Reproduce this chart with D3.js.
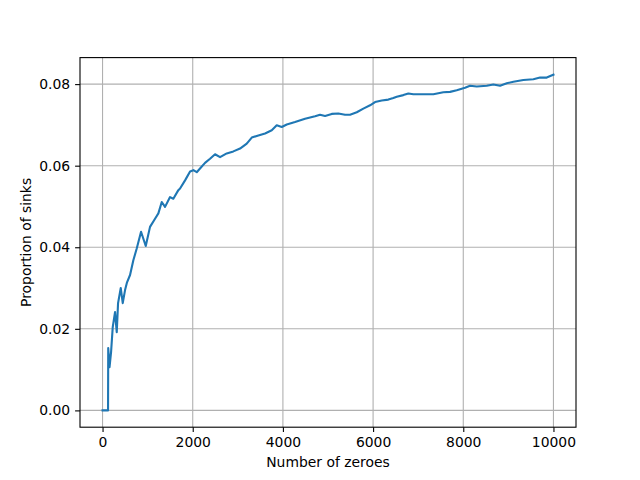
<!DOCTYPE html>
<html>
<head>
<meta charset="utf-8">
<script src="https://cdn.jsdelivr.net/npm/d3@7"></script>
<style>
  html, body { margin: 0; padding: 0; background: #fff; }
  svg { display: block; }
</style>
</head>
<body>
<svg id="chart" width="640" height="480"></svg>
<script>
// Data
const zeroes = [0, 122, 126, 155, 189, 226, 277, 315, 344, 404, 448, 499, 543, 610, 683, 758, 854, 958, 1053, 1164, 1238, 1313, 1386, 1497, 1570, 1681, 1719, 1830, 1941, 2014, 2089, 2162, 2273, 2384, 2495, 2606, 2754, 2901, 3049, 3198, 3309, 3455, 3604, 3753, 3863, 3974, 4085, 4269, 4491, 4713, 4824, 4935, 5083, 5230, 5378, 5489, 5638, 5784, 5933, 6044, 6192, 6338, 6449, 6525, 6671, 6782, 6893, 7115, 7336, 7558, 7707, 7855, 8039, 8150, 8299, 8521, 8667, 8816, 8964, 9111, 9333, 9554, 9703, 9851, 10000];
const sinks = [0, 0, 0.0153, 0.0106, 0.0143, 0.0204, 0.0241, 0.0192, 0.0263, 0.0300, 0.0263, 0.0295, 0.0314, 0.0332, 0.0368, 0.0397, 0.0438, 0.0403, 0.0450, 0.0470, 0.0483, 0.0511, 0.0499, 0.0523, 0.0519, 0.0540, 0.0544, 0.0564, 0.0586, 0.0589, 0.0584, 0.0593, 0.0607, 0.0617, 0.0628, 0.0621, 0.0630, 0.0635, 0.0642, 0.0654, 0.0669, 0.0674, 0.0679, 0.0687, 0.0699, 0.0695, 0.0701, 0.0707, 0.0715, 0.0721, 0.0725, 0.0722, 0.0727, 0.0728, 0.0725, 0.0725, 0.0731, 0.0740, 0.0748, 0.0756, 0.0760, 0.0762, 0.0766, 0.0769, 0.0773, 0.0777, 0.0775, 0.0775, 0.0775, 0.0780, 0.0781, 0.0785, 0.0791, 0.0796, 0.0794, 0.0796, 0.0799, 0.0796, 0.0802, 0.0806, 0.0810, 0.0812, 0.0816, 0.0816, 0.0823];
const xTicks = [0, 2000, 4000, 6000, 8000, 10000];
const yTicks = [0.00, 0.02, 0.04, 0.06, 0.08];
const xLabel = "Number of zeroes";
const yLabel = "Proportion of sinks";

const svg = d3.select("#chart");
const mLeft = 80, mRight = 576, mTop = 57.6, mBottom = 427.2;

const x = d3.scaleLinear().domain([-500, 10500]).range([mLeft, mRight]);
const y = d3.scaleLinear().domain([-0.00412, 0.0865]).range([mBottom, mTop]);

const font = "'DejaVu Sans', sans-serif";
const gridColor = "#b0b0b0";

// grid
const grid = svg.append("g");
grid.selectAll("line.gx").data(xTicks).enter().append("line")
  .attr("class", "gx")
  .attr("x1", d => x(d)).attr("x2", d => x(d))
  .attr("y1", mTop).attr("y2", mBottom)
  .attr("stroke", gridColor).attr("stroke-width", 1.1);
grid.selectAll("line.gy").data(yTicks).enter().append("line")
  .attr("class", "gy")
  .attr("y1", d => y(d)).attr("y2", d => y(d))
  .attr("x1", mLeft).attr("x2", mRight)
  .attr("stroke", gridColor).attr("stroke-width", 1.1);

// line
const pts = zeroes.map((z, i) => [z, sinks[i]]);
svg.append("path")
  .datum(pts)
  .attr("fill", "none")
  .attr("stroke", "#1f77b4")
  .attr("stroke-width", 2.1)
  .attr("stroke-linejoin", "round")
  .attr("stroke-linecap", "square")
  .attr("d", d3.line().x(d => x(d[0])).y(d => y(d[1])));

// axes
const xAxis = d3.axisBottom(x).tickValues(xTicks).tickFormat(d3.format("d")).tickSizeOuter(0).tickSize(4.9).tickPadding(4.9);
const yAxis = d3.axisLeft(y).tickValues(yTicks).tickFormat(d3.format(".2f")).tickSizeOuter(0).tickSize(4.9).tickPadding(4.9);

const gx = svg.append("g").attr("transform", `translate(0,${mBottom})`).call(xAxis);
const gy = svg.append("g").attr("transform", `translate(${mLeft},0)`).call(yAxis);
[gx, gy].forEach(g => {
  g.select(".domain").remove();
  g.selectAll(".tick line").attr("stroke", "#000").attr("stroke-width", 1.1);
  g.selectAll(".tick text").attr("fill", "#000").style("font-family", font).style("font-size", "13.9px");
});

// spines
svg.append("rect")
  .attr("x", mLeft).attr("y", mTop)
  .attr("width", mRight - mLeft).attr("height", mBottom - mTop)
  .attr("fill", "none").attr("stroke", "#000").attr("stroke-width", 1.1);

// labels
svg.append("text")
  .attr("x", (mLeft + mRight) / 2).attr("y", 467)
  .attr("text-anchor", "middle")
  .style("font-family", font).style("font-size", "13.9px")
  .text(xLabel);
svg.append("text")
  .attr("transform", `translate(31,${(mTop + mBottom) / 2}) rotate(-90)`)
  .attr("text-anchor", "middle")
  .style("font-family", font).style("font-size", "13.9px")
  .text(yLabel);
</script>
</body>
</html>
